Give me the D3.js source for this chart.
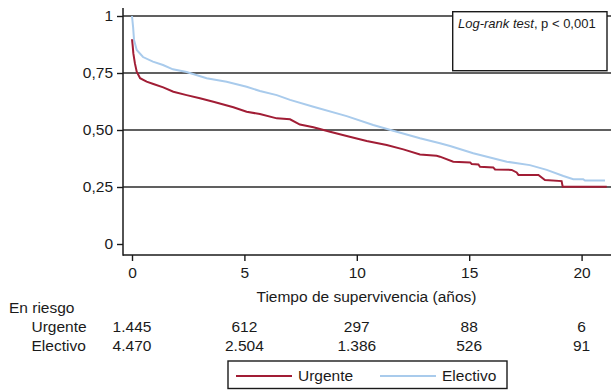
<!DOCTYPE html>
<html>
<head>
<meta charset="utf-8">
<script src="https://cdn.jsdelivr.net/npm/d3@7"></script>
<style>
body { margin: 0; background: #fff; }
svg text { font-family: "Liberation Sans", Arial, Helvetica, sans-serif; fill: #1a1a1a; }
</style>
</head>
<body>
<div id="chart"></div>
<script>
// Kaplan-Meier curves (time in years, survival)
var urgTime = [0, 0.03, 0.06, 0.13, 0.21, 0.36, 0.65, 0.95, 1.39, 1.84, 2.43, 3.02, 3.62, 4.51, 5.10, 5.69, 6.44, 7.03, 7.47, 8.07, 8.81, 9.55, 10.44, 11.33, 12.07, 12.81, 13.55, 13.70, 14.29, 15.04, 15.11, 15.41, 15.48, 16.07, 16.15, 16.89, 17.11, 17.19, 18.08, 18.37, 19.11, 19.16, 21.12];
var urgSurv = [0.898, 0.87, 0.836, 0.792, 0.756, 0.727, 0.712, 0.702, 0.687, 0.668, 0.653, 0.639, 0.624, 0.600, 0.580, 0.570, 0.551, 0.547, 0.524, 0.512, 0.492, 0.474, 0.452, 0.434, 0.415, 0.393, 0.387, 0.383, 0.361, 0.358, 0.351, 0.349, 0.339, 0.336, 0.327, 0.325, 0.314, 0.303, 0.303, 0.281, 0.276, 0.251, 0.251];

var elecTime = [0, 0.05, 0.09, 0.21, 0.49, 0.93, 1.38, 1.82, 2.43, 3.32, 4.21, 5.10, 5.69, 6.44, 7.03, 8.07, 9.55, 10.73, 11.62, 12.81, 13.70, 14.15, 15.18, 16.67, 17.70, 18.45, 19.19, 19.63, 20.07, 20.15, 21.04];
var elecSurv = [1, 0.95, 0.895, 0.851, 0.82, 0.80, 0.785, 0.766, 0.754, 0.727, 0.712, 0.69, 0.671, 0.653, 0.632, 0.602, 0.561, 0.522, 0.497, 0.464, 0.442, 0.43, 0.398, 0.361, 0.346, 0.325, 0.298, 0.284, 0.284, 0.278, 0.278];

var xTicks = [0, 5, 10, 15, 20];
var yTicks = [0, 0.25, 0.5, 0.75, 1];
var gridVals = [0.25, 0.5, 0.75, 1];

// numbers at risk
var riskTimes = [0, 5, 10, 15, 20];
var riskUrg = ["1.445", "612", "297", "88", "6"];
var riskElec = ["4.470", "2.504", "1.386", "526", "91"];

var groups = ["Urgente", "Electivo"];
var colors = ["#a11d35", "#a9cbec"];

var width = 611, height = 390;
var fs = "15.5px";

var svg = d3.select("#chart").append("svg")
    .attr("width", width)
    .attr("height", height);

var x = d3.scaleLinear().domain([0, 20]).range([132, 581.6]);
var y = d3.scaleLinear().domain([0, 1]).range([244, 16]);

var plotLeft = 123, plotRight = 611;

function fmt(d) {
    if (d === 0) return "0";
    if (d === 1) return "1";
    return d3.format(".2f")(d).replace(".", ",");
}

// horizontal reference lines
svg.append("g").selectAll("line")
    .data(gridVals)
    .enter().append("line")
    .attr("x1", plotLeft).attr("x2", plotRight)
    .attr("y1", function(d) { return y(d); })
    .attr("y2", function(d) { return y(d); })
    .attr("stroke", "#2b2b2b")
    .attr("stroke-width", 1.5);

// Y axis
var yAxis = svg.append("g")
    .attr("transform", "translate(" + plotLeft + ",0)")
    .call(d3.axisLeft(y).tickValues(yTicks).tickSize(6).tickPadding(4).tickFormat(fmt));
yAxis.select(".domain").remove();
yAxis.selectAll("line").attr("stroke", "#1a1a1a").attr("stroke-width", 1.4);
yAxis.selectAll("text").style("font-size", fs).style("font-family", null);

// X axis
var xAxis = svg.append("g")
    .attr("transform", "translate(0,255)")
    .call(d3.axisBottom(x).tickValues(xTicks).tickSize(6).tickPadding(6));
xAxis.select(".domain").remove();
xAxis.selectAll("line").attr("stroke", "#1a1a1a").attr("stroke-width", 1.4);
xAxis.selectAll("text").style("font-size", fs).style("font-family", null);

// axis lines
svg.append("line")
    .attr("x1", plotLeft).attr("x2", plotLeft)
    .attr("y1", 8).attr("y2", 255.7)
    .attr("stroke", "#1a1a1a").attr("stroke-width", 1.5);
svg.append("line")
    .attr("x1", plotLeft).attr("x2", plotRight)
    .attr("y1", 255).attr("y2", 255)
    .attr("stroke", "#1a1a1a").attr("stroke-width", 1.5);

// survival curves
var line = d3.line()
    .x(function(d) { return x(d[0]); })
    .y(function(d) { return y(d[1]); });

svg.append("path")
    .datum(d3.zip(elecTime, elecSurv))
    .attr("fill", "none")
    .attr("stroke", colors[1])
    .attr("stroke-width", 2)
    .attr("d", line);

svg.append("path")
    .datum(d3.zip(urgTime, urgSurv))
    .attr("fill", "none")
    .attr("stroke", colors[0])
    .attr("stroke-width", 2)
    .attr("d", line);

// log-rank box
svg.append("rect")
    .attr("x", 452.7).attr("y", 11.7)
    .attr("width", 154.3).attr("height", 59)
    .attr("fill", "#fff")
    .attr("stroke", "#1a1a1a").attr("stroke-width", 1.4);
var lr = svg.append("text")
    .attr("x", 458).attr("y", 27.5)
    .style("font-size", "13px");
lr.append("tspan").style("font-style", "italic").text("Log-rank test");
lr.append("tspan").text(", p < 0,001");

// axis title
svg.append("text")
    .attr("x", 366.5).attr("y", 302)
    .attr("text-anchor", "middle")
    .style("font-size", fs)
    .text("Tiempo de supervivencia (a\u00f1os)");

// at-risk table
svg.append("text")
    .attr("x", 9).attr("y", 313)
    .style("font-size", fs)
    .text("En riesgo");

var rows = [riskUrg, riskElec];
var rowY = [332, 351];
rows.forEach(function(vals, i) {
    svg.append("text")
        .attr("x", 31.5).attr("y", rowY[i])
        .style("font-size", fs)
        .text(groups[i]);
    svg.append("g").selectAll("text")
        .data(vals)
        .enter().append("text")
        .attr("x", function(d, j) { return x(riskTimes[j]); })
        .attr("y", rowY[i])
        .attr("text-anchor", "middle")
        .style("font-size", fs)
        .text(function(d) { return d; });
});

// legend
svg.append("rect")
    .attr("x", 228).attr("y", 361)
    .attr("width", 279).attr("height", 27.5)
    .attr("fill", "#fff")
    .attr("stroke", "#1a1a1a").attr("stroke-width", 1.4);

var legX = [236, 380];
groups.forEach(function(g, i) {
    svg.append("line")
        .attr("x1", legX[i]).attr("x2", legX[i] + 56)
        .attr("y1", 376).attr("y2", 376)
        .attr("stroke", colors[i]).attr("stroke-width", 2);
    svg.append("text")
        .attr("x", legX[i] + 62).attr("y", 381)
        .style("font-size", fs)
        .text(g);
});
</script>
</body>
</html>
